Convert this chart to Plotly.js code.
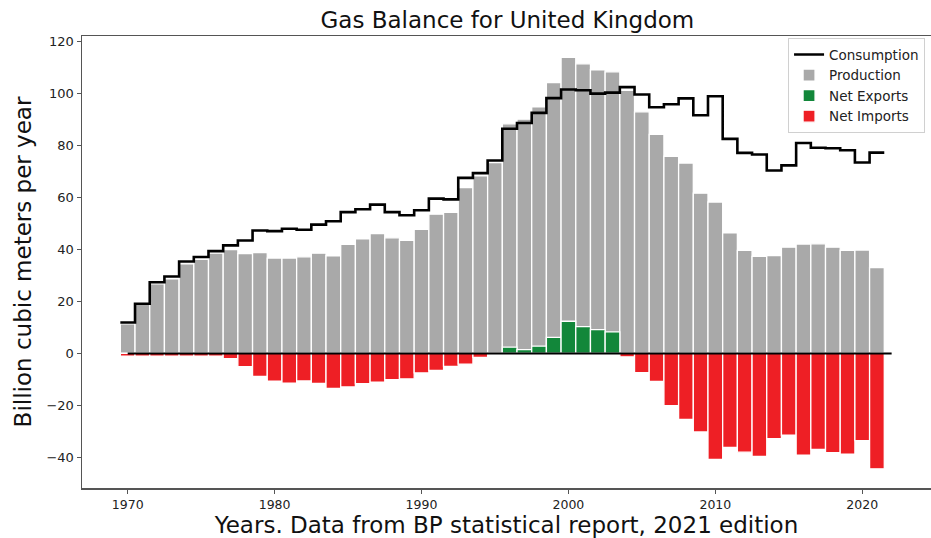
<!DOCTYPE html>
<html>
<head>
<meta charset="utf-8">
<script src="https://cdn.plot.ly/plotly-3.0.1.min.js"></script>
<style>
html,body{margin:0;padding:0;background:#fff;overflow:hidden;}
#chart{width:931px;height:538px;}
</style>
</head>
<body>
<div id="chart"></div>
<script>
const years = [1970,1971,1972,1973,1974,1975,1976,1977,1978,1979,
  1980,1981,1982,1983,1984,1985,1986,1987,1988,1989,
  1990,1991,1992,1993,1994,1995,1996,1997,1998,1999,
  2000,2001,2002,2003,2004,2005,2006,2007,2008,2009,
  2010,2011,2012,2013,2014,2015,2016,2017,2018,2019,
  2020,2021];

const production = [11.4,18.9,26.8,28.7,34.5,36.2,38.6,40.0,38.4,38.8,
  36.7,36.7,37.2,38.6,37.6,42.0,44.1,46.1,44.5,43.5,
  47.8,53.6,54.3,63.8,68.4,73.5,88.4,90.2,94.9,104.3,
  114.0,111.5,109.2,108.4,101.3,93.0,84.3,75.9,73.3,61.7,
  58.3,46.4,39.7,37.4,37.7,40.9,42.1,42.2,40.9,39.7,
  39.8,33.0];

const consumption = [11.9,19.1,27.4,29.6,35.4,37.1,39.4,41.6,43.5,47.3,
  47.1,48.0,47.6,49.6,50.9,54.4,55.5,57.3,54.4,53.2,
  55.1,59.6,59.3,67.6,69.4,74.3,86.5,88.7,92.6,98.3,
  101.6,101.3,100.0,100.4,102.5,99.7,94.8,95.9,98.2,91.7,
  99.0,82.6,77.2,76.6,70.4,72.4,81.0,79.2,79.0,78.2,
  73.5,77.3];

const netExports = [0,0,0,0,0,0,0,0,0,0,
  0,0,0,0,0,0,0,0,0,0,
  0,0,0,0,0,0,2.4,1.5,2.8,6.2,
  12.4,10.3,9.2,8.3,0,0,0,0,0,0,
  0,0,0,0,0,0,0,0,0,0,
  0,0];

const netImports = [-1.0,-1.0,-1.0,-1.0,-1.0,-1.0,-1.0,-2.0,-5.1,-8.8,
  -10.7,-11.4,-10.6,-11.5,-13.5,-12.9,-11.6,-11.1,-10.1,-9.8,
  -7.5,-6.5,-5.0,-4.1,-1.5,0,0,0,0,0,
  0,0,0,0,-1.3,-7.4,-10.8,-20.1,-25.4,-30.2,
  -40.8,-36.2,-38.0,-39.6,-32.8,-31.5,-39.2,-36.9,-38.2,-38.8,
  -33.6,-44.4];

const xTicks = [1970,1980,1990,2000,2010,2020];
const yTicks = [-40,-20,0,20,40,60,80,100,120];

// step line: each year's value spans year-0.5 .. year+0.5
const stepX = years.map(y => y - 0.5).concat([years[years.length-1] + 0.5]);
const stepY = consumption.concat([consumption[consumption.length-1]]);

const FONT = "DejaVu Sans, sans-serif";
const barLine = {color:'#ffffff', width:1.3};

const traces = [
  {type:'bar', name:'Production', x:years, y:production, width:1,
   marker:{color:'#a9a9a9', line:barLine}, legendrank:2},
  {type:'bar', name:'Net Exports', x:years, y:netExports, width:1,
   marker:{color:'#12873a', line:barLine}, legendrank:3},
  {type:'bar', name:'Net Imports', x:years, y:netImports, width:1,
   marker:{color:'#ee1f25', line:barLine}, legendrank:4},
  {type:'scatter', mode:'lines', name:'Consumption', x:stepX, y:stepY,
   line:{color:'#000000', width:2.6, shape:'hv'}, legendrank:1}
];

const layout = {
  width:931, height:538,
  margin:{l:82, r:0, t:36, b:50},
  paper_bgcolor:'#ffffff', plot_bgcolor:'#ffffff',
  barmode:'overlay', bargap:0,
  font:{family:FONT, color:'#222', size:13},
  title:{text:'Gas Balance for United Kingdom', font:{family:FONT, size:23, color:'#111'},
         x:0.545, xanchor:'center', y:0.962, yanchor:'middle', yref:'container'},
  xaxis:{range:[1966.89, 2024.68], tickvals:xTicks, ticktext:xTicks.map(String),
    showgrid:false, zeroline:false, showline:true, mirror:true, linecolor:'#555', linewidth:1.5,
    ticks:'outside', ticklen:4, tickwidth:1, tickcolor:'#555',
    tickfont:{family:FONT, size:12.5, color:'#222'},
    title:{text:'Years. Data from BP statistical report, 2021 edition', font:{family:FONT, size:23, color:'#111'}, standoff:8}},
  yaxis:{range:[-51.8, 122.2], tickvals:yTicks, ticktext:yTicks.map(v => v < 0 ? '\u2212' + Math.abs(v) : String(v)),
    showgrid:false, zeroline:false, showline:true, mirror:false, linecolor:'#555', linewidth:1.5,
    ticks:'outside', ticklen:4, tickwidth:1, tickcolor:'#555',
    tickfont:{family:FONT, size:13, color:'#222'},
    title:{text:'Billion cubic meters per year', font:{family:FONT, size:23, color:'#111'}, standoff:8}},
  legend:{x:0.993, y:0.995, xanchor:'right', yanchor:'top', bgcolor:'#ffffff',
    bordercolor:'#d0d0d0', borderwidth:1, font:{family:FONT, size:13.5, color:'#222'},
    traceorder:'normal', tracegroupgap:0},
  shapes:[{type:'line', xref:'x', yref:'y', x0:years[0], x1:years[years.length-1]+1, y0:0, y1:0,
    line:{color:'#000', width:2}, layer:'above'}],
  showlegend:true
};

Plotly.newPlot('chart', traces, layout, {displayModeBar:false, staticPlot:true});
</script>
</body>
</html>
